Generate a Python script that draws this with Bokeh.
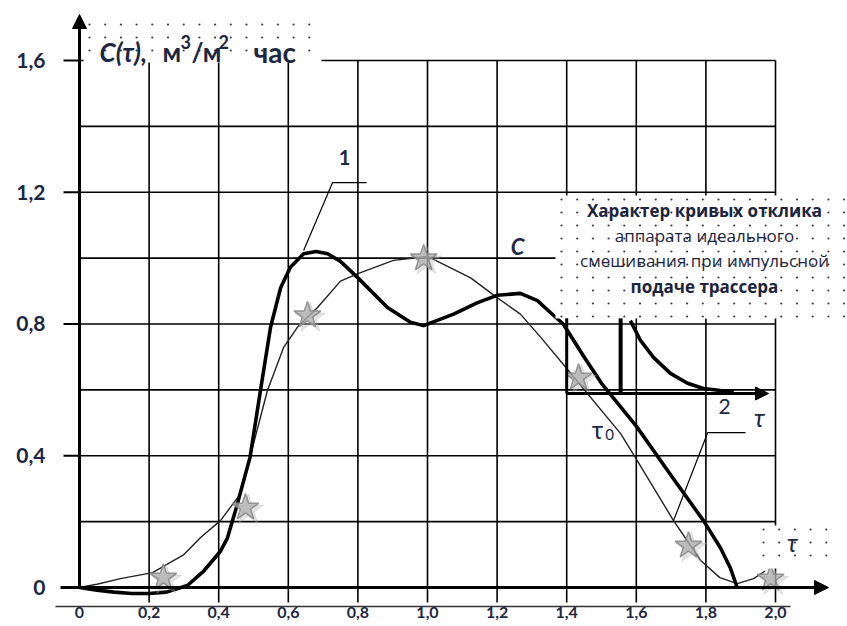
import numpy as np
from bokeh.plotting import figure
from bokeh.models import Range1d, Arrow, NormalHead
from bokeh.core.properties import value
from bokeh.embed import file_html
from bokeh.resources import INLINE

# ---------------- data ----------------
x_ticks = [0.0, 0.2, 0.4, 0.6, 0.8, 1.0, 1.2, 1.4, 1.6, 1.8, 2.0]
x_tick_labels = ["0", "0,2", "0,4", "0,6", "0,8", "1,0", "1,2", "1,4", "1,6", "1,8", "2,0"]
y_ticks = [0.0, 0.4, 0.8, 1.2, 1.6]
y_tick_labels = ["0", "0,4", "0,8", "1,2", "1,6"]
grid_x = [0.2, 0.4, 0.6, 0.8, 1.0, 1.2, 1.4, 1.6, 1.8, 2.0]
grid_y = [0.2, 0.4, 0.6, 0.8, 1.0, 1.2, 1.4, 1.6]

# curve 1 (thick)
curve1_x = [0.0, 0.05, 0.1, 0.15, 0.2, 0.25, 0.31, 0.357, 0.405, 0.425, 0.45, 0.49,
            0.52, 0.549, 0.578, 0.606, 0.644, 0.68, 0.713, 0.75, 0.8, 0.885, 0.951, 0.989,
            1.075, 1.144, 1.2, 1.267, 1.316, 1.353, 1.39, 1.45, 1.5, 1.6, 1.7, 1.793,
            1.842, 1.87, 1.89]
curve1_y = [0.0, -0.008, -0.014, -0.018, -0.018, -0.014, 0.006, 0.05, 0.11, 0.15, 0.24, 0.395,
            0.598, 0.79, 0.91, 0.972, 1.013, 1.02, 1.013, 0.99, 0.94, 0.85, 0.805, 0.795,
            0.83, 0.865, 0.887, 0.893, 0.871, 0.835, 0.8, 0.7, 0.62, 0.49, 0.34, 0.203,
            0.12, 0.06, 0.0]

# curve 2 (thin)
curve2_x = [0.0, 0.05, 0.118, 0.21, 0.3, 0.348, 0.405, 0.463, 0.49, 0.54, 0.587, 0.626,
            0.684, 0.75, 0.8, 0.902, 1.0, 1.124, 1.2, 1.267, 1.325, 1.4, 1.555, 1.6,
            1.707, 1.785, 1.84, 1.89, 1.937, 1.97]
curve2_y = [0.0, 0.01, 0.027, 0.045, 0.1, 0.152, 0.203, 0.285, 0.395, 0.598, 0.73, 0.79,
            0.85, 0.93, 0.953, 0.993, 1.005, 0.94, 0.88, 0.83, 0.76, 0.665, 0.467, 0.39,
            0.203, 0.082, 0.03, 0.012, 0.027, 0.05]

# experimental points (stars)
stars_x = [0.241, 0.477, 0.655, 0.989, 1.434, 1.75, 1.986]
stars_y = [0.03, 0.243, 0.826, 0.999, 0.637, 0.127, 0.027]

# inset: response curve of ideal mixing apparatus
inset_x = [1.583, 1.612, 1.65, 1.698, 1.747, 1.793, 1.842, 1.88]
inset_y = [0.81, 0.75, 0.698, 0.65, 0.62, 0.604, 0.598, 0.595]

inset_text = ["Характер кривых отклика", "аппарата идеального",
              "смешивания при импульсной", "подаче трассера"]

# ---------------- figure ----------------
W, H = 847, 626
# screen mapping: x=0 -> 79px, 348 px per unit ; y=0 -> 587px, 329.4 px per unit
X0, XS = 79.0, 348.0
Y0, YS = 587.0, 329.4


def px_x(v):
    return (v - X0) / XS


def px_y(v):
    return (Y0 - v) / YS


p = figure(width=W, height=H, output_backend="svg", toolbar_location=None,
           x_range=Range1d(px_x(0), px_x(W)),
           y_range=Range1d(px_y(H), px_y(0)),
           min_border=0, outline_line_color=None,
           background_fill_color="white", border_fill_color="white")
p.xaxis.visible = False
p.yaxis.visible = False
p.grid.visible = False

LW_GRID = 1.6
TICK_LOW = px_y(602)
# grid
p.segment(x0=[0.0] * len(grid_y), y0=grid_y, x1=[2.0] * len(grid_y), y1=grid_y,
          line_color="black", line_width=LW_GRID)
p.segment(x0=grid_x, y0=[TICK_LOW] * len(grid_x), x1=grid_x, y1=[1.6] * len(grid_x),
          line_color="black", line_width=LW_GRID)

# curves
p.line(curve2_x, curve2_y, line_color="#222222", line_width=1.4)
p.line(curve1_x, curve1_y, line_color="black", line_width=3.6, line_join="round")

# stars with soft shadow
p.scatter([x + 0.008 for x in stars_x], [y - 0.008 for y in stars_y], marker="star",
          size=32, fill_color="#b0b0b0", fill_alpha=0.35, line_color="#b0b0b0", line_alpha=0.35)
p.scatter(stars_x, stars_y, marker="star", size=28, fill_color="#ababab", fill_alpha=0.7,
          line_color="#8a8a8a", line_width=1.5, line_alpha=0.9)

# leader lines
p.line([0.644, 0.727, 0.825], [1.023, 1.229, 1.229], line_color="black", line_width=1.2)
p.line([1.707, 1.805, 1.914], [0.203, 0.47, 0.47], line_color="black", line_width=1.2)


# dotted label boxes (pixel rectangles: left, right, top, bottom)
def dotted_box(l, r, t, b):
    p.quad(left=px_x(l), right=px_x(r), bottom=px_y(b), top=px_y(t),
           fill_color="white", line_color=None)
    xs = np.arange(l + 6, r, 15.7)
    ys = np.arange(t + 4, b, 13.0)
    gx, gy = np.meshgrid(xs, ys)
    p.scatter(px_x(gx.ravel()), px_y(gy.ravel()), marker="circle", size=2.2,
              fill_color="#3a3a3a", line_color=None)


dotted_box(555, 847, 195, 318)
dotted_box(83, 321, 20, 62)
dotted_box(757, 835, 525, 568)

# inset diagram
p.line(inset_x, inset_y, line_color="black", line_width=3.6)
p.segment(x0=[1.555], y0=[0.589], x1=[1.555], y1=[0.817], line_color="black", line_width=4)
p.segment(x0=[1.4], y0=[0.589], x1=[1.4], y1=[0.817], line_color="black", line_width=3)
p.add_layout(Arrow(end=NormalHead(size=13, fill_color="black", line_color="black"),
                   x_start=1.4, y_start=0.589, x_end=px_x(768), y_end=0.589,
                   line_color="black", line_width=3))

# axes
p.add_layout(Arrow(end=NormalHead(size=14, fill_color="black", line_color="black"),
                   x_start=px_x(60), y_start=0.0, x_end=px_x(828), y_end=0.0,
                   line_color="black", line_width=3))
p.add_layout(Arrow(end=NormalHead(size=14, fill_color="black", line_color="black"),
                   x_start=0.0, y_start=0.0, x_end=0.0, y_end=px_y(14),
                   line_color="black", line_width=3))
p.segment(x0=[px_x(63)] * 4, y0=y_ticks[1:], x1=[0.0] * 4, y1=y_ticks[1:],
          line_color="black", line_width=2)
p.segment(x0=[px_x(55)], y0=[px_y(606)], x1=[px_x(790)], y1=[px_y(606)],
          line_color="#333333", line_width=1.5)

# tick labels
LABEL_COL = "#1d2742"
p.text(x=[px_x(45)] * len(y_ticks), y=y_ticks, text=y_tick_labels, text_align="right",
       text_baseline="middle", text_font=value("Lato"), text_font_size="21px",
       text_font_style="bold", text_color=LABEL_COL)
p.text(x=x_ticks, y=[px_y(606)] * len(x_ticks), text=x_tick_labels, text_align="center",
       text_baseline="top", text_font=value("Lato"), text_font_size="16px",
       text_font_style="bold", text_color=LABEL_COL)

# title label  C(τ), м³/м² час
BASE = px_y(51)
SUP = px_y(41)
p.text(x=[px_x(99)], y=[BASE], text=["C(τ),"], text_baseline="alphabetic",
       text_font=value("Lato"), text_font_size="26px", text_font_style="bold italic",
       text_color=LABEL_COL)
for t, xp, yy, fs in [("м", 162, BASE, "26px"), ("3", 180, SUP, "18px"),
                      ("/м", 191, BASE, "26px"), ("2", 218, SUP, "18px"),
                      ("час", 253, BASE, "28px")]:
    p.text(x=[px_x(xp)], y=[yy], text=[t], text_baseline="alphabetic",
           text_font=value("Lato"), text_font_size=fs, text_font_style="bold",
           text_color=LABEL_COL)

p.text(x=[px_x(344)], y=[px_y(157)], text=["1"], text_align="center", text_baseline="middle",
       text_font=value("Lato"), text_font_size="20px", text_font_style="bold", text_color=LABEL_COL)
p.text(x=[px_x(517)], y=[px_y(246)], text=["C"], text_align="center", text_baseline="middle",
       text_font=value("Lato"), text_font_size="22px", text_font_style="bold italic",
       text_color=LABEL_COL)
p.text(x=[px_x(597)], y=[px_y(428)], text=["τ"], text_align="center", text_baseline="middle",
       text_font=value("Lato"), text_font_size="25px", text_color=LABEL_COL)
p.text(x=[px_x(609)], y=[px_y(434)], text=["0"], text_align="center", text_baseline="middle",
       text_font=value("Lato"), text_font_size="15px", text_color=LABEL_COL)
p.text(x=[px_x(724)], y=[px_y(406)], text=["2"], text_align="center", text_baseline="middle",
       text_font=value("Lato"), text_font_size="21px", text_color=LABEL_COL)
p.text(x=[px_x(759)], y=[px_y(416)], text=["τ"], text_align="center", text_baseline="middle",
       text_font=value("Lato"), text_font_size="25px", text_font_style="italic", text_color=LABEL_COL)
p.text(x=[px_x(792)], y=[px_y(541)], text=["τ"], text_align="center", text_baseline="middle",
       text_font=value("Lato"), text_font_size="25px", text_font_style="italic", text_color=LABEL_COL)

inset_ys = [210, 235, 260, 286]
inset_styles = ["bold", "normal", "normal", "bold"]
for t, yy, st in zip(inset_text, inset_ys, inset_styles):
    p.text(x=[px_x(704)], y=[px_y(yy)], text=[t], text_align="center", text_baseline="middle",
           text_font=value("Open Sans"), text_font_size="17px", text_font_style=st,
           text_color="#1d2440")

open("out.html", "w").write(file_html(p, INLINE))
